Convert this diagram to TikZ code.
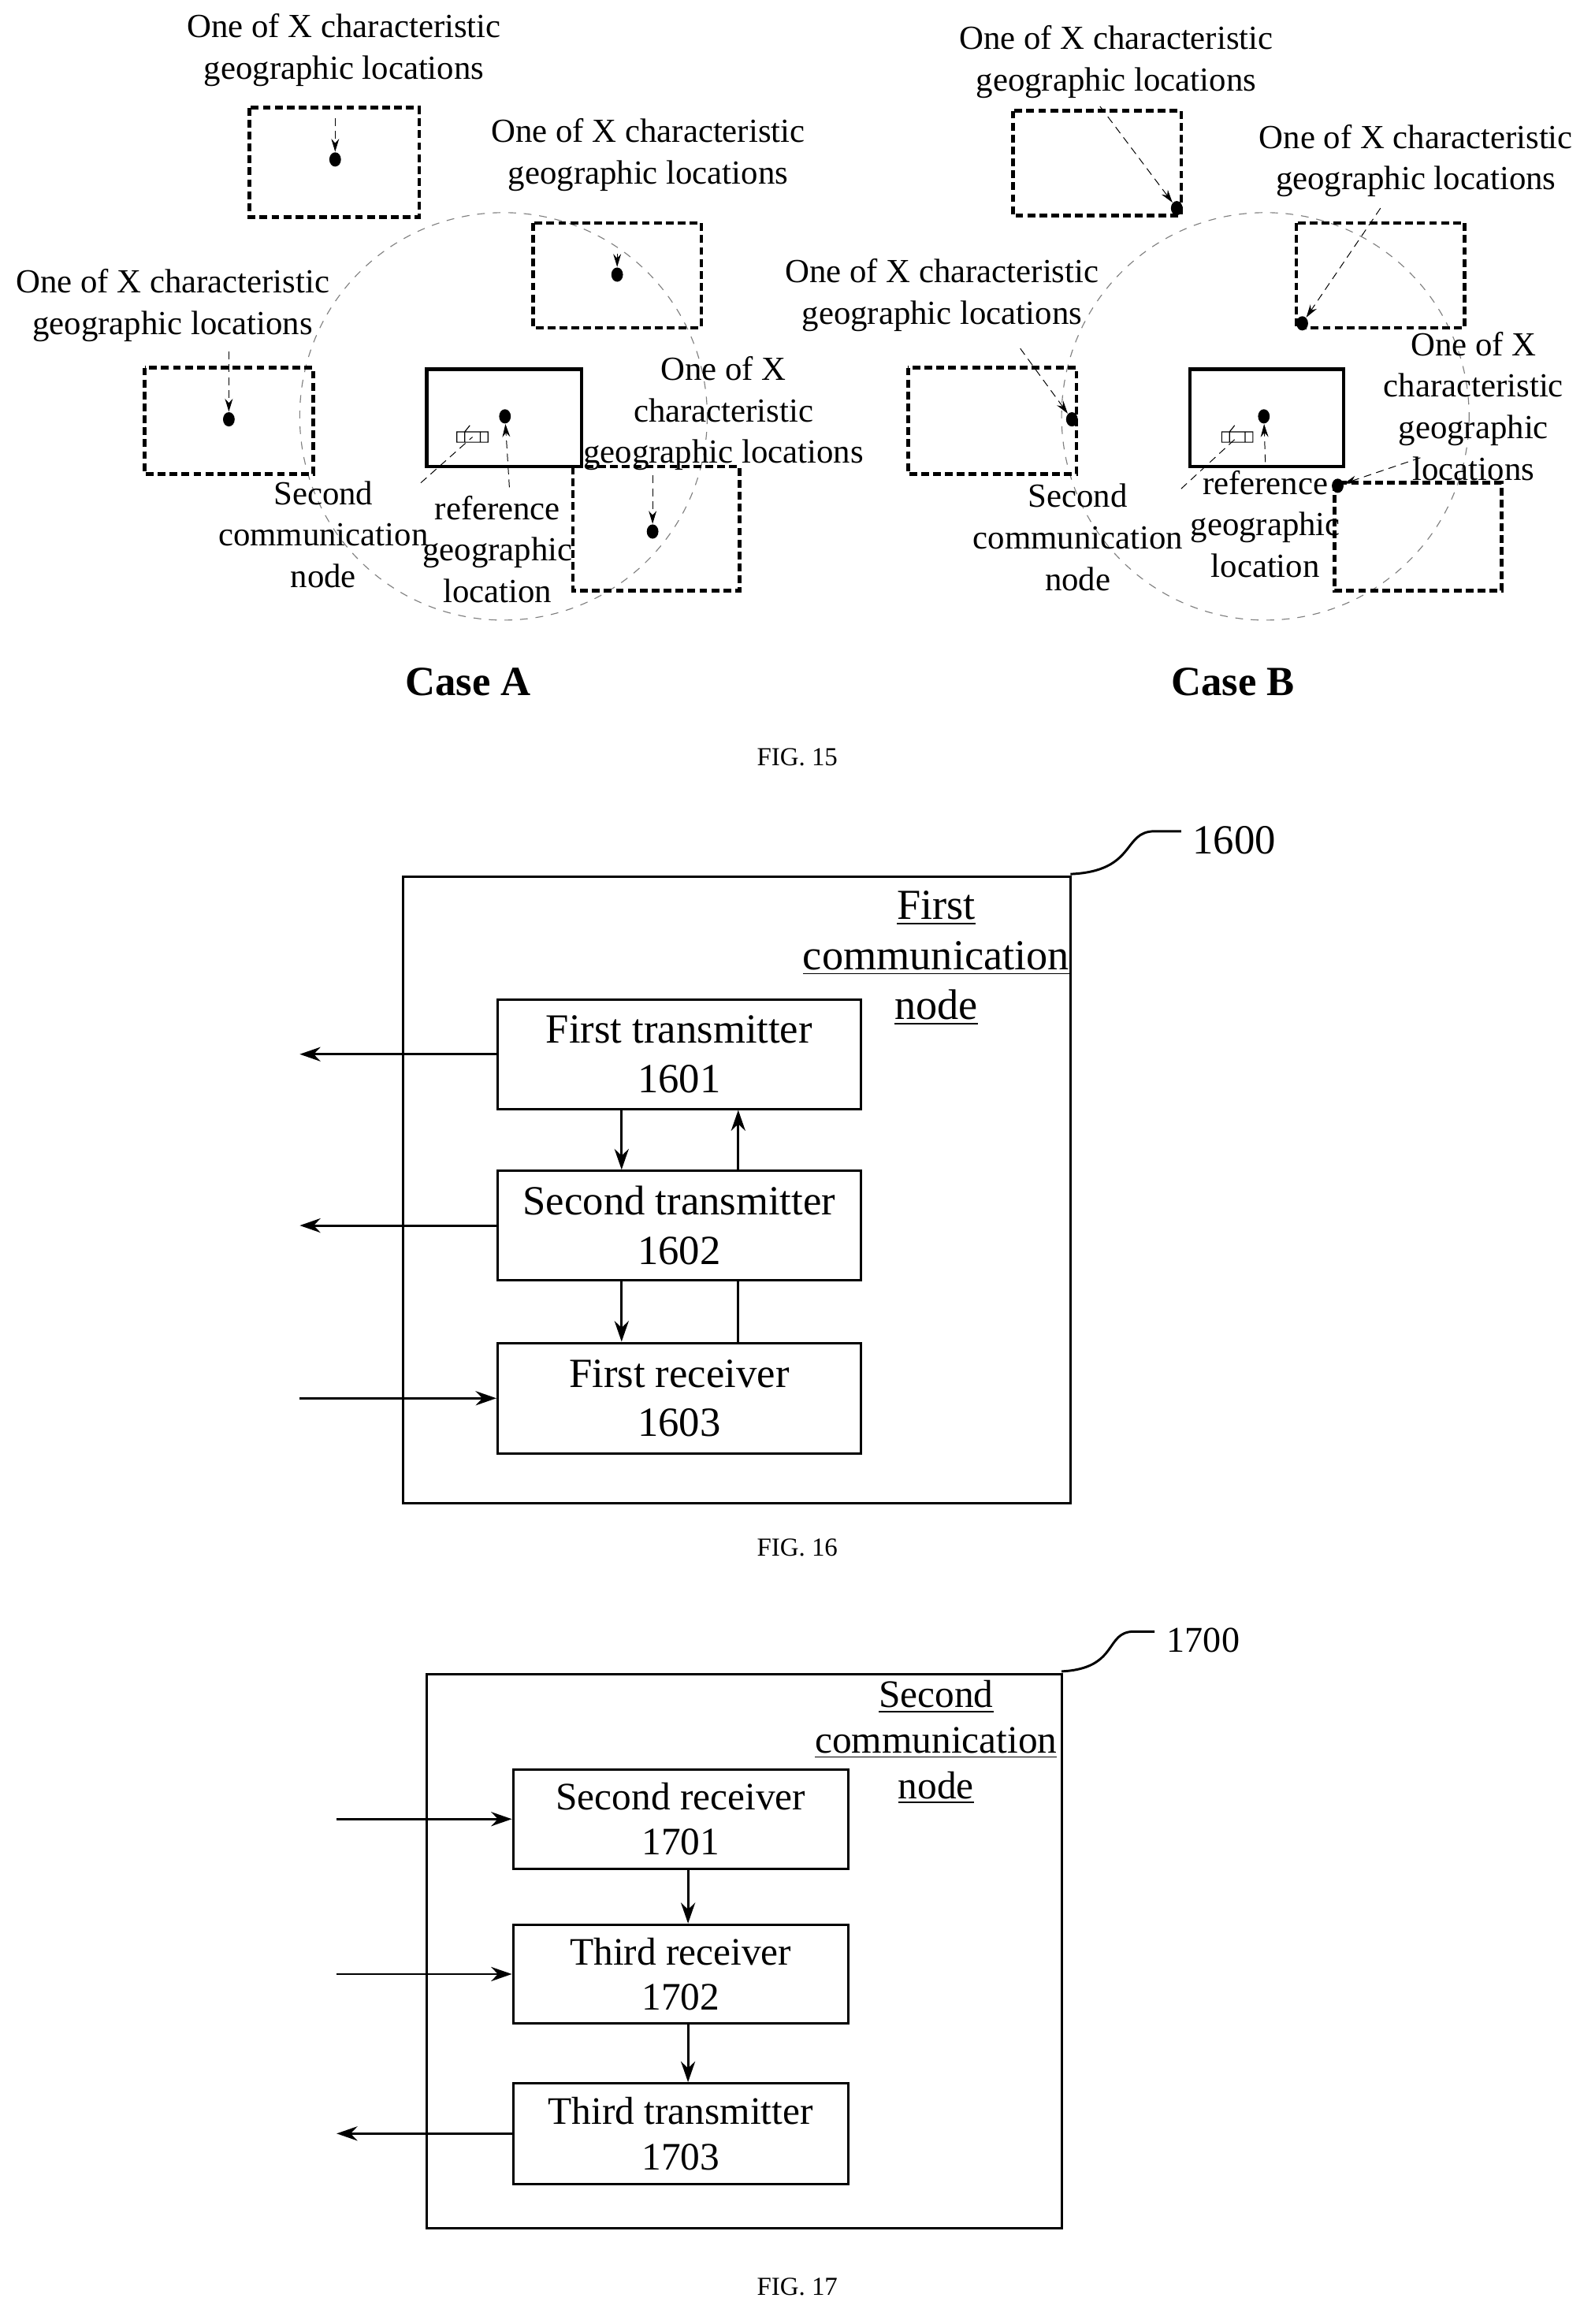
\documentclass[tikz,border=0pt]{standalone}
\usepackage{fontspec}
\setmainfont{Liberation Serif}
\usetikzlibrary{arrows.meta,shapes.geometric}
\tikzset{
	% boxes and dots for the location figures
	char box/.style={draw,line width=1.4pt,dash pattern=on 3pt off 1.6pt},
	ref box/.style={draw,line width=1.3pt},
	loc dot/.style={ellipse,fill=black,inner sep=0pt,minimum width=4.5pt,minimum height=5.5pt},
	loc label/.style={align=center,font=\fontsize{13}{16}\selectfont},
	pointer/.style={densely dashed,line width=0.3pt,-{Stealth[length=5pt,width=3pt]}},
	range ring/.style={dashed,gray,line width=0.35pt},
	% block diagrams
	block/.style={draw,line width=0.9pt,align=center},
	flow/.style={line width=0.9pt,-{Stealth[length=8pt,width=5.5pt]}}
}
\newcommand{\car}[1]{\draw[line width=0.35pt] ([xshift=-6pt,yshift=-2pt]#1) rectangle ([xshift=6pt,yshift=2pt]#1)
	([xshift=-3pt,yshift=-2pt]#1) -- ([xshift=-3pt,yshift=2pt]#1) ([xshift=3pt,yshift=-2pt]#1) -- ([xshift=3pt,yshift=2pt]#1)
	([xshift=-3pt,yshift=2pt]#1) -- ([xshift=-1pt,yshift=4.5pt]#1);}
\begin{document}
\begin{tikzpicture}[x=0.02cm,y=-0.02cm]
	\useasboundingbox (0,0) rectangle (1080,1574);

	% ---------- FIG. 15, case A
	\draw[range ring] (341,282) circle (138);
	\draw[char box] (169,73) rectangle (284,147);
	\draw[char box] (361,151) rectangle (475,222);
	\draw[char box] (98,249) rectangle (212,321);
	\draw[char box] (388,316) rectangle (501,400);
	\draw[ref box] (289,250) rectangle (394,316);
	\node[loc dot] (a1) at (227,108) {};
	\node[loc dot] (a2) at (418,186) {};
	\node[loc dot] (a3) at (155,284) {};
	\node[loc dot] (a4) at (442,360) {};
	\node[loc dot] (aref) at (342,282) {};
	\coordinate (acar) at (320,296);
	\car{acar}
	\node[loc label] (la1) at (233,34) {One of X characteristic\\geographic locations};
	\node[loc label] (la2) at (439,105) {One of X characteristic\\geographic locations};
	\node[loc label] (la3) at (117,207) {One of X characteristic\\geographic locations};
	\node[loc label] (la4) at (490,280) {One of X\\characteristic\\geographic locations};
	\node[loc label] (lasec) at (219,362) {Second\\communication\\node};
	\node[loc label] (laref) at (337,372) {reference\\geographic\\location};
	\draw[pointer] (227,80) -- (a1);
	\draw[pointer] (418,172) -- (a2);
	\draw[pointer] (155,238) -- (a3);
	\draw[pointer] (442,322) -- (a4);
	\draw[densely dashed,line width=0.3pt] (285,327) -- (acar);
	\draw[pointer] (345,330) -- (aref);
	\node[font=\bfseries\fontsize{16}{18}\selectfont] (casea) at (317,462) {Case A};

	% ---------- FIG. 15, case B
	\draw[range ring] (857,282) circle (138);
	\draw[char box] (686,75) rectangle (800,146);
	\draw[char box] (878,151) rectangle (992,222);
	\draw[char box] (615,249) rectangle (729,321);
	\draw[char box] (904,327) rectangle (1017,400);
	\draw[ref box] (806,250) rectangle (910,316);
	\node[loc dot] (b1) at (797,141) {};
	\node[loc dot] (b2) at (882,219) {};
	\node[loc dot] (b3) at (726,284) {};
	\node[loc dot] (b4) at (906,329) {};
	\node[loc dot] (bref) at (856,282) {};
	\coordinate (bcar) at (838,296);
	\car{bcar}
	\node[loc label] (lb1) at (756,42) {One of X characteristic\\geographic locations};
	\node[loc label] (lb2) at (959,109) {One of X characteristic\\geographic locations};
	\node[loc label] (lb3) at (638,200) {One of X characteristic\\geographic locations};
	\node[loc label] (lb4) at (998,275) {One of X\\characteristic\\geographic\\locations};
	\node[loc label] (lbsec) at (730,364) {Second\\communication\\node};
	\node[loc label] (lbref) at (857,355) {reference\\geographic\\location};
	\draw[pointer] (745,72) -- (b1);
	\draw[pointer] (935,141) -- (b2);
	\draw[pointer] (691,236) -- (b3);
	\draw[pointer] (962,310) -- (b4);
	\draw[densely dashed,line width=0.3pt] (800,331) -- (bcar);
	\draw[pointer] (857,313) -- (bref);
	\node[font=\bfseries\fontsize{16}{18}\selectfont] (caseb) at (835,462) {Case B};

	\node[font=\fontsize{10}{12}\selectfont] (fig15) at (540,513) {FIG. 15};

	% ---------- FIG. 16
	\draw[line width=0.9pt] (273,594) rectangle (725,1018);
	\draw[line width=0.9pt] (725,592) .. controls (770,590) and (760,563) .. (782,563) -- (800,563);
	\node[font=\fontsize{16}{19}\selectfont] (n1600) at (836,569) {1600};
	\node[align=center,font=\fontsize{16.5}{19.3}\selectfont] (first) at (634,649)
		{\underline{First}\\\underline{communication}\\\underline{node}};
	\node[block,minimum width=246*0.02cm,minimum height=74*0.02cm,font=\fontsize{16}{19}\selectfont] (tx1) at (460,714) {First transmitter\\1601};
	\node[block,minimum width=246*0.02cm,minimum height=74*0.02cm,font=\fontsize{16}{19}\selectfont] (tx2) at (460,830) {Second transmitter\\1602};
	\node[block,minimum width=246*0.02cm,minimum height=75*0.02cm,font=\fontsize{16}{19}\selectfont] (rx1) at (460,947) {First receiver\\1603};
	\coordinate (out1) at (203,714);
	\coordinate (out2) at (203,830);
	\coordinate (in1) at (203,947);
	\draw[flow] (tx1.west) -- (out1);
	\draw[flow] (tx2.west) -- (out2);
	\draw[flow] (in1) -- (rx1.west);
	\draw[flow] (tx1.south -| 421,0) -- (tx2.north -| 421,0);
	\draw[flow] (tx2.north -| 500,0) -- (tx1.south -| 500,0);
	\draw[flow] (tx2.south -| 421,0) -- (rx1.north -| 421,0);
	\draw[line width=0.9pt] (rx1.north -| 500,0) -- (tx2.south -| 500,0);
	\node[font=\fontsize{10}{12}\selectfont] (fig16) at (540,1048) {FIG. 16};

	% ---------- FIG. 17
	\draw[line width=0.9pt] (289,1134) rectangle (719,1509);
	\draw[line width=0.9pt] (719,1132) .. controls (758,1130) and (748,1105) .. (768,1105) -- (782,1105);
	\node[font=\fontsize{14}{17}\selectfont] (n1700) at (815,1111) {1700};
	\node[align=center,font=\fontsize{15}{17.5}\selectfont] (second) at (634,1180)
		{\underline{Second}\\\underline{communication}\\\underline{node}};
	\node[block,minimum width=227*0.02cm,minimum height=67*0.02cm,font=\fontsize{15}{17.5}\selectfont] (rx2) at (461,1232) {Second receiver\\1701};
	\node[block,minimum width=227*0.02cm,minimum height=67*0.02cm,font=\fontsize{15}{17.5}\selectfont] (rx3) at (461,1337) {Third receiver\\1702};
	\node[block,minimum width=227*0.02cm,minimum height=68*0.02cm,font=\fontsize{15}{17.5}\selectfont] (tx3) at (461,1445) {Third transmitter\\1703};
	\coordinate (in2) at (228,1232);
	\coordinate (in3) at (228,1337);
	\coordinate (out3) at (228,1445);
	\draw[flow] (in2) -- (rx2.west);
	\draw[flow] (in3) -- (rx3.west);
	\draw[flow] (tx3.west) -- (out3);
	\draw[flow] (rx2.south -| 466,0) -- (rx3.north -| 466,0);
	\draw[flow] (rx3.south -| 466,0) -- (tx3.north -| 466,0);
	\node[font=\fontsize{10}{12}\selectfont] (fig17) at (540,1549) {FIG. 17};
\end{tikzpicture}
\end{document}
